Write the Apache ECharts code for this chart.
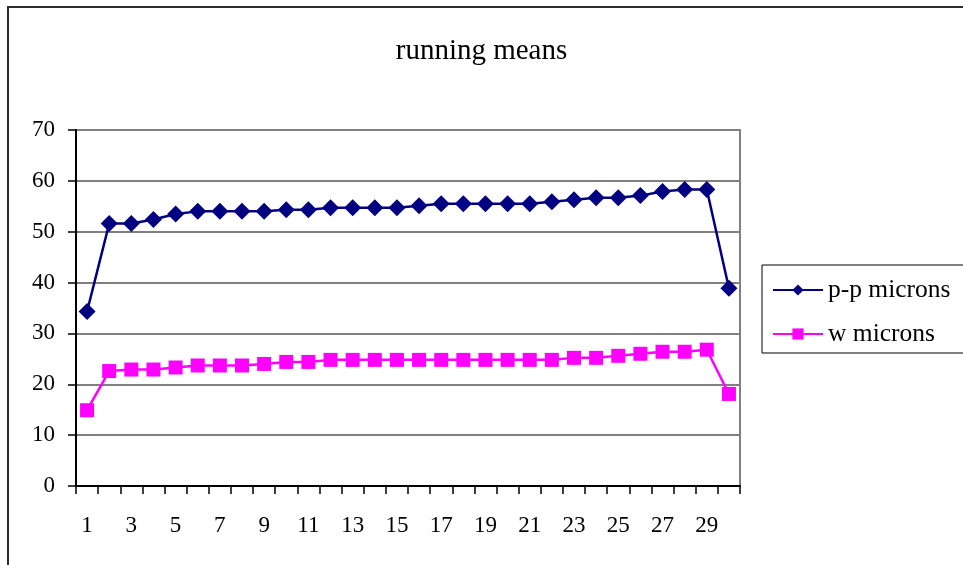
<!DOCTYPE html>
<html>
<head>
<meta charset="utf-8">
<script src="https://cdn.jsdelivr.net/npm/echarts@6/dist/echarts.min.js"></script>
<style>
  html, body { margin: 0; padding: 0; background: #fff; }
  #chart { width: 963px; height: 565px; }
</style>
</head>
<body>
<div id="chart"></div>
<script>
// Sample index 1..30
const categories = Array.from({ length: 30 }, (_, i) => String(i + 1));

// Running mean, peak-to-peak (microns)
const ppMicrons = [
  34.3, 51.6, 51.6, 52.4, 53.5, 54.0, 54.0, 54.0, 54.0, 54.3,
  54.3, 54.7, 54.7, 54.7, 54.7, 55.1, 55.5, 55.5, 55.5, 55.5,
  55.5, 55.9, 56.3, 56.7, 56.7, 57.1, 57.9, 58.3, 58.3, 38.9
];

// Running mean, width (microns)
const wMicrons = [
  14.9, 22.6, 22.9, 22.9, 23.3, 23.7, 23.7, 23.7, 24.0, 24.4,
  24.4, 24.8, 24.8, 24.8, 24.8, 24.8, 24.8, 24.8, 24.8, 24.8,
  24.8, 24.8, 25.2, 25.2, 25.6, 26.0, 26.4, 26.4, 26.8, 18.1
];

const seriesNames = ['p-p microns', 'w microns'];
const yTicks = { min: 0, max: 70, interval: 10 };

const serif = '"Liberation Serif", "Times New Roman", "DejaVu Serif", serif';

const chart = echarts.init(document.getElementById('chart'), null, { renderer: 'canvas' });

chart.setOption({
  backgroundColor: '#ffffff',
  animation: false,
  title: {
    text: 'running means',
    left: 'center',
    top: 32,
    textStyle: { fontFamily: serif, fontSize: 29, fontWeight: 'normal', color: '#000' }
  },
  graphic: [{
    type: 'rect',
    shape: { x: 8, y: 7, width: 990, height: 600 },
    style: { fill: 'none', stroke: '#2b2b2b', lineWidth: 2 },
    silent: true,
    z: -1
  }],
  legend: {
    orient: 'vertical',
    left: 762,
    top: 265,
    padding: [12, 20, 6, 10],
    itemGap: 18,
    itemWidth: 50,
    itemHeight: 14,
    borderColor: '#000',
    borderWidth: 1,
    textStyle: { fontFamily: serif, fontSize: 25.5, color: '#000', lineHeight: 24 },
    data: seriesNames
  },
  grid: {
    left: 76,
    right: 223,
    top: 130,
    bottom: 79,
    show: true,
    borderColor: '#808080',
    borderWidth: 2
  },
  xAxis: {
    type: 'category',
    data: categories,
    boundaryGap: true,
    axisLine: { lineStyle: { color: '#000', width: 2 } },
    axisTick: { show: true, interval: 0, length: 8, lineStyle: { color: '#000', width: 1.5 } },
    axisLabel: { interval: 1, margin: 28, fontFamily: serif, fontSize: 23, color: '#000' },
    splitLine: { show: false }
  },
  yAxis: {
    type: 'value',
    min: yTicks.min,
    max: yTicks.max,
    interval: yTicks.interval,
    axisLine: { show: true, lineStyle: { color: '#000', width: 2 } },
    axisTick: { show: true, length: 8, lineStyle: { color: '#000', width: 1.5 } },
    axisLabel: { margin: 21, fontFamily: serif, fontSize: 23, color: '#000' },
    splitLine: { show: true, lineStyle: { color: '#808080', width: 2 } }
  },
  series: [
    {
      name: seriesNames[0],
      type: 'line',
      data: ppMicrons,
      symbol: 'diamond',
      symbolSize: 17,
      showAllSymbol: true,
      lineStyle: { color: '#000080', width: 2.5 },
      itemStyle: { color: '#000080' },
      z: 3
    },
    {
      name: seriesNames[1],
      type: 'line',
      data: wMicrons,
      symbol: 'rect',
      symbolSize: 14,
      showAllSymbol: true,
      lineStyle: { color: '#ff00ff', width: 2.5 },
      itemStyle: { color: '#ff00ff' },
      z: 3
    }
  ]
});
</script>
</body>
</html>
